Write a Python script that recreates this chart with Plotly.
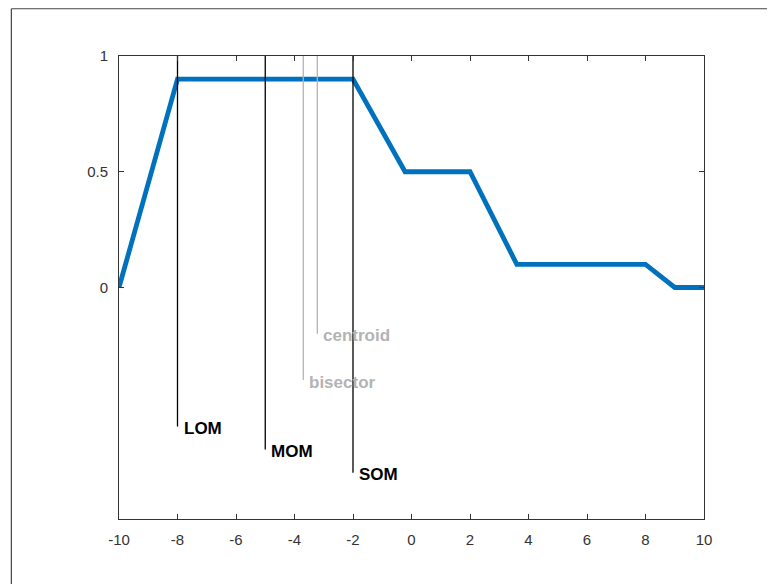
import plotly.graph_objects as go

# Aggregated membership function breakpoints
x_pts = [-10, -8, -2, -0.22, 2, 3.6, 8, 9, 10]
y_pts = [0, 0.9, 0.9, 0.5, 0.5, 0.1, 0.1, 0, 0]

# Defuzzification results: name, x position, label y, colour
method_names = ["centroid", "bisector", "MOM", "SOM", "LOM"]
method_x = [-3.22, -3.7, -5, -2, -8]
method_label_y = [-0.2, -0.4, -0.7, -0.8, -0.6]
method_colors = ["rgb(179,179,179)", "rgb(179,179,179)", "black", "black", "black"]

x_ticks = [-10, -8, -6, -4, -2, 0, 2, 4, 6, 8, 10]
y_ticks = [0, 0.5, 1]

FONT = "Liberation Sans, Arial, sans-serif"

fig = go.Figure()
fig.add_trace(go.Scatter(x=x_pts, y=y_pts, mode="lines",
                         line=dict(color="rgb(0,114,189)", width=4.8),
                         hoverinfo="skip", showlegend=False))

for name, xv, yv, col in zip(method_names, method_x, method_label_y, method_colors):
    fig.add_trace(go.Scatter(x=[xv, xv], y=[yv, 1.2], mode="lines",
                             line=dict(color=col, width=1.3),
                             hoverinfo="skip", showlegend=False))
    fig.add_annotation(x=xv, y=yv, text="<b>" + name + "</b>", showarrow=False,
                       xanchor="left", yanchor="middle", xshift=4, yshift=-2,
                       font=dict(family=FONT, size=17, color=col))

axis_common = dict(showline=True, linecolor="#333333", linewidth=1, mirror="ticks",
                   ticks="inside", ticklen=5, tickcolor="#333333", tickwidth=1,
                   showgrid=False, zeroline=False,
                   tickfont=dict(family=FONT, size=15, color="#333333"))

fig.update_xaxes(range=[-10, 10], tickvals=x_ticks, ticktext=[str(v) for v in x_ticks],
                 ticklabelstandoff=7, **axis_common)
fig.update_yaxes(range=[-1, 1], tickvals=y_ticks, ticktext=["0", "0.5", "1"],
                 ticklabelstandoff=7, **axis_common)

# outer figure frame (only top and left visible)
fig.add_shape(type="line", xref="paper", yref="paper", x0=-0.184, x1=-0.184, y0=1.102, y1=-0.3,
              line=dict(color="#444444", width=1.2))
fig.add_shape(type="line", xref="paper", yref="paper", x0=-0.184, x1=1.3, y0=1.102, y1=1.102,
              line=dict(color="#444444", width=1.2))

# page body has an 8px margin, so offset the plot area accordingly
fig.update_layout(width=775, height=584, margin=dict(l=111, r=79, t=48, b=73),
                  plot_bgcolor="white", paper_bgcolor="white")

fig.write_html("out.html")
